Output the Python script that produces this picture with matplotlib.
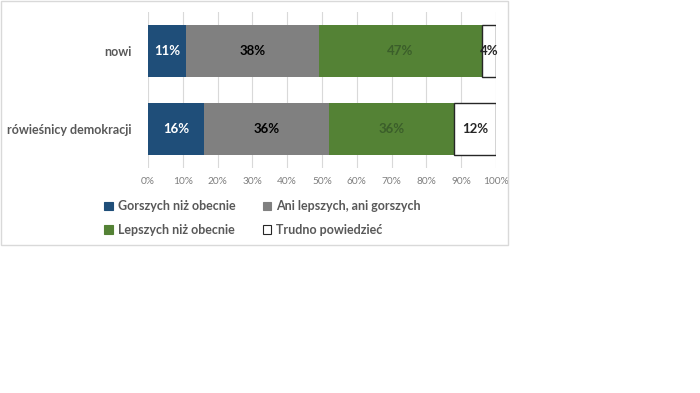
import matplotlib
matplotlib.use("Agg")
import matplotlib.pyplot as plt
from matplotlib.patches import Rectangle, Patch

categories = ["nowi", "rówieśnicy demokracji"]
series_names = ["Gorszych niż obecnie", "Ani lepszych, ani gorszych",
                "Lepszych niż obecnie", "Trudno powiedzieć"]
values = {
    "Gorszych niż obecnie": [11, 16],
    "Ani lepszych, ani gorszych": [38, 36],
    "Lepszych niż obecnie": [47, 36],
    "Trudno powiedzieć": [4, 12],
}
xticks = [0, 10, 20, 30, 40, 50, 60, 70, 80, 90, 100]

colors = ["#1F4E79", "#808080", "#548235", "#FFFFFF"]
edgecolors = ["#1F4E79", "#808080", "#548235", "#262626"]
label_colors = ["#FFFFFF", "#000000", "#3B5E2A", "#262626"]

plt.rcParams['font.family'] = ['Lato', 'DejaVu Sans']

W, H = 700, 393
fig = plt.figure(figsize=(W / 100, H / 100), dpi=100)

# outer chart frame
fig.patches.append(Rectangle((1 / W, 1 - 245 / H), 507 / W, 244 / H,
                             transform=fig.transFigure, fill=False,
                             edgecolor="#D9D9D9", linewidth=1))

ax = fig.add_axes([148 / W, 1 - 168 / H, 348 / W, 156 / H])
ypos = [1, 0]
left = [0, 0]
for i, name in enumerate(series_names):
    vals = values[name]
    ax.barh(ypos, vals, left=left, height=0.667, color=colors[i],
            edgecolor=edgecolors[i], linewidth=1.0 if i == 3 else 0,
            label=name, zorder=3)
    for y, v, l in zip(ypos, vals, left):
        ax.text(l + v / 2, y, f"{v}%", ha="center", va="center",
                color=label_colors[i], fontsize=9.5, fontweight="bold", zorder=4)
    left = [a + b for a, b in zip(left, vals)]

ax.set_xlim(0, 100)
ax.set_ylim(-0.5, 1.5)
ax.set_xticks(xticks)
ax.set_xticklabels([f"{t}%" for t in xticks], color="#7F7F7F", fontsize=7.3)
ax.set_yticks(ypos)
ax.set_yticklabels(categories, color="#595959", fontsize=9, fontweight="bold")
ax.tick_params(axis="both", length=0)
ax.tick_params(axis="y", pad=12)
ax.tick_params(axis="x", pad=6.5)
for s in ax.spines.values():
    s.set_visible(False)
ax.grid(axis="x", color="#D9D9D9", linewidth=0.8, zorder=0)
ax.set_axisbelow(True)

handles = [Patch(facecolor=colors[i], edgecolor=edgecolors[i] if i == 3 else colors[i],
                 linewidth=0.8) for i in range(4)]
order = [0, 2, 1, 3]  # column-first filling -> rows: (0,1), (2,3)
leg = fig.legend([handles[i] for i in order], [series_names[i] for i in order],
                 ncol=2, loc="upper left",
                 bbox_to_anchor=(93 / W, 1 - 189 / H), frameon=False,
                 handlelength=0.7, handleheight=0.7, handletextpad=0.4,
                 columnspacing=2.15, labelspacing=0.95, fontsize=9)
for t in leg.get_texts():
    t.set_color("#595959")
    t.set_fontweight("bold")

fig.savefig("out.png", dpi=100)
